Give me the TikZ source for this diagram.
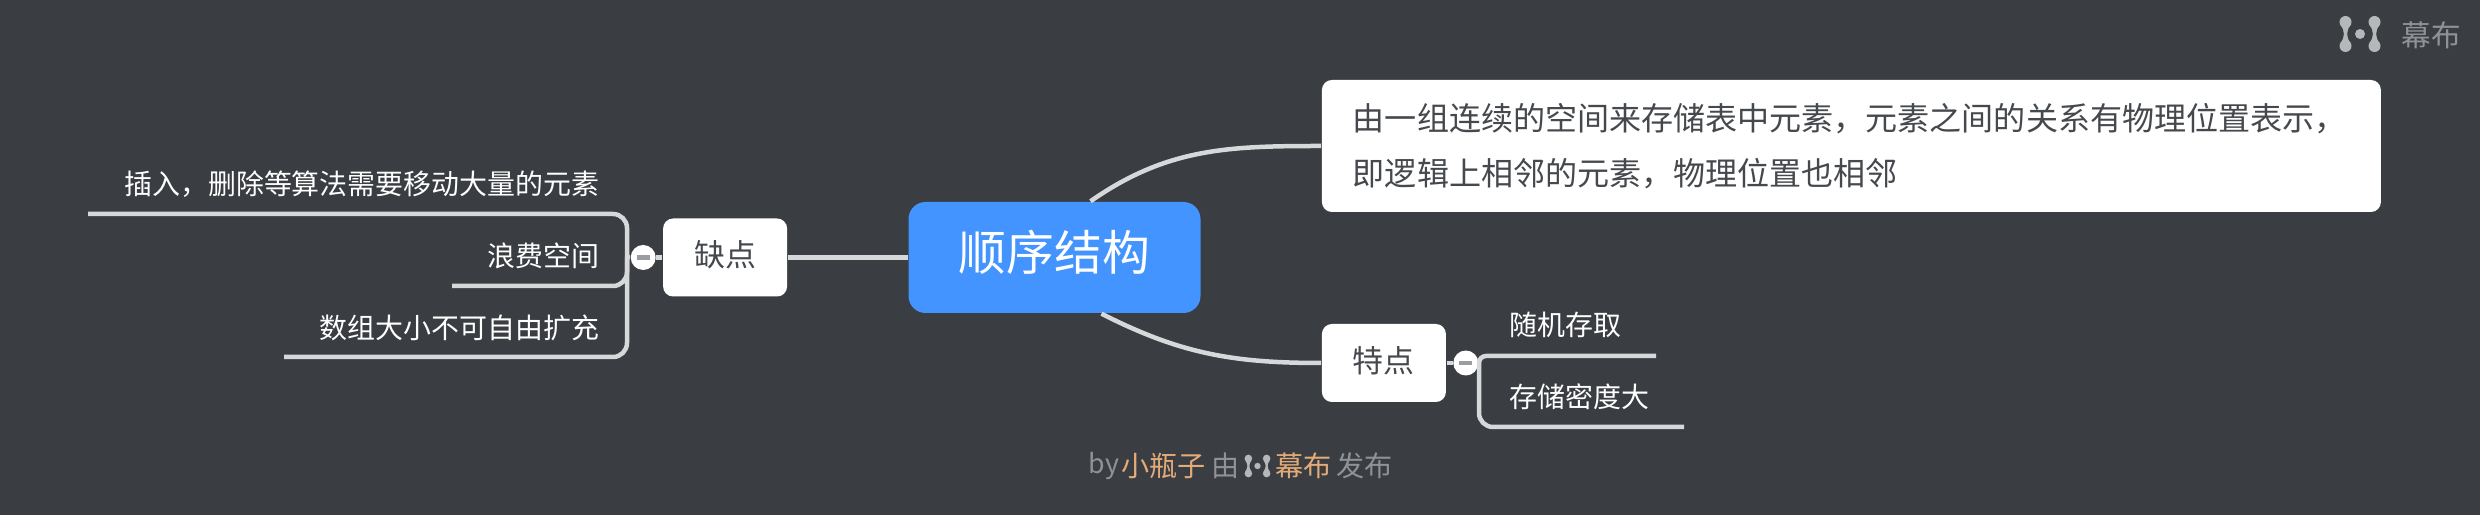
\documentclass[tikz,border=0pt]{standalone}
\usepackage{fontspec}
\setmainfont{Noto Sans CJK SC}
\usepackage{tikz}
\usetikzlibrary{positioning}
\definecolor{boardbg}{HTML}{3A3D42}
\definecolor{rootblue}{HTML}{4394FF}
\definecolor{branchgray}{HTML}{D6D8DA}
\definecolor{inkgray}{HTML}{45484C}
\definecolor{foldgray}{HTML}{9A9C9F}
\definecolor{markgray}{HTML}{8F9296}
\definecolor{markorange}{HTML}{E3AB78}
\definecolor{logogray}{HTML}{B6B7B9}
\tikzset{
	branch/.style={draw=branchgray, line width=.045cm},
	topicbox/.style={fill=white, text=inkgray, rounded corners=.1cm, inner sep=0pt},
	smallbox/.style={topicbox, minimum width=1.24cm, minimum height=.78cm, text height=.3cm, text depth=.11cm, font=\fontsize{8.8pt}{10pt}\selectfont},
	leaf/.style={text=white, inner sep=0pt, font=\fontsize{7.95pt}{10pt}\selectfont},
	fold/.style={circle, fill=white, inner sep=0pt, minimum size=.25cm,
		path picture={\draw[foldgray, line width=.045cm] ([xshift=-.065cm]path picture bounding box.center) -- ([xshift=.065cm]path picture bounding box.center);}},
	footmark/.style={text=markgray, inner sep=0pt, font=\fontsize{8pt}{10pt}\selectfont},
	mubu/.pic={
		\foreach \side in {-.145,.145} {
			\fill[logogray] (\side,.12) circle (.06);
			\fill[logogray] (\side,-.12) circle (.06);
			\fill[logogray] (\side-.05,.09) .. controls (\side-.005,.03) and (\side-.005,-.03) .. (\side-.05,-.09)
				-- (\side+.05,-.09) .. controls (\side+.005,-.03) and (\side+.005,.03) .. (\side+.05,.09) -- cycle;
		}
		\fill[logogray] (0,0) circle (.05);
	}
}

\begin{document}
\begin{tikzpicture}
	\fill[boardbg] (0,0) rectangle (24.8,-5.15);
	\useasboundingbox (0,0) rectangle (24.8,-5.15);
	% central topic and the three boxes round it
	\node[fill=rootblue, text=white, rounded corners=.17cm, inner sep=0pt, minimum width=2.92cm, minimum height=1.11cm, text height=.4cm, text depth=.14cm, font=\fontsize{13.6pt}{16pt}\selectfont] (Root) at (10.545,-2.575) {顺序结构};
	\node[smallbox, left=1.2cm of Root] (Defect) {缺点};
	\node[topicbox, right=1.2cm of Root, yshift=1.115cm, minimum height=1.32cm, text width=9.97cm, inner xsep=.31cm, align=left, font=\fontsize{9.12pt}{15.6pt}\selectfont] (Desc) {由一组连续的空间来存储表中元素，元素之间的关系有物理位置表示，\\即逻辑上相邻的元素，物理位置也相邻};
	\node[smallbox, right=1.2cm of Root, yshift=-1.055cm] (Feature) {特点};
	\node[fold, left=.06cm of Defect] (FoldL) {};
	\node[fold, right=.06cm of Feature] (FoldR) {};
	% leaves
	\node[leaf, anchor=east] (Insert) at (6.0,-1.84) {插入，删除等算法需要移动大量的元素};
	\node[leaf, anchor=east] (Waste) at (6.0,-2.56) {浪费空间};
	\node[leaf, anchor=east] (Fixed) at (6.0,-3.28) {数组大小不可自由扩充};
	\node[leaf, anchor=west] (Random) at (15.09,-3.25) {随机存取};
	\node[leaf, anchor=west] (Dense) at (15.09,-3.97) {存储密度大};
	\coordinate (JuncL) at (6.27,-2.57);
	\coordinate (JuncR) at (14.79,-3.63);
	\coordinate (InsertEnd) at (.88,-2.14);
	\coordinate (WasteEnd) at (4.52,-2.86);
	\coordinate (FixedEnd) at (2.84,-3.57);
	\coordinate (RandomEnd) at (16.56,-3.56);
	\coordinate (DenseEnd) at (16.84,-4.27);
	% connectors
	\draw[branch] (Root) -- (Defect);
	\draw[branch] ([xshift=.36cm]Root.north) to[out=35,in=180] (Desc.west);
	\draw[branch] ([xshift=.47cm]Root.south) to[out=-27,in=180] (Feature.west);
	\draw[branch] (Defect) -- (FoldL);
	\draw[branch] (FoldL) -- (JuncL);
	\draw[branch] (Feature) -- (FoldR);
	\draw[branch] (FoldR) -- (JuncR);
	\draw[branch, rounded corners=.14cm] (JuncL) |- (InsertEnd);
	\draw[branch, rounded corners=.14cm] (JuncL) |- (WasteEnd);
	\draw[branch, rounded corners=.14cm] (JuncL) |- (FixedEnd);
	\draw[branch, rounded corners=.07cm] (JuncR) |- (RandomEnd);
	\draw[branch, rounded corners=.14cm] (JuncR) |- (DenseEnd);
	% brand marks
	\path (23.6,-.34) pic {mubu};
	\node[footmark, anchor=west, font=\fontsize{8.4pt}{10pt}\selectfont] (BrandTop) at (24.01,-.35) {幕布};
	\node[footmark, anchor=west, font=\fontsize{7.6pt}{10pt}\selectfont] (FootBy) at (10.88,-4.66) {by};
	\node[footmark, anchor=west, text=markorange] (FootName) at (11.21,-4.66) {小瓶子};
	\node[footmark, anchor=west] (FootVia) at (12.11,-4.66) {由};
	\path (12.575,-4.66) pic[scale=.63] {mubu};
	\node[footmark, anchor=west, text=markorange] (FootBrand) at (12.75,-4.66) {幕布};
	\node[footmark, anchor=west] (FootPub) at (13.36,-4.66) {发布};
\end{tikzpicture}
\end{document}
